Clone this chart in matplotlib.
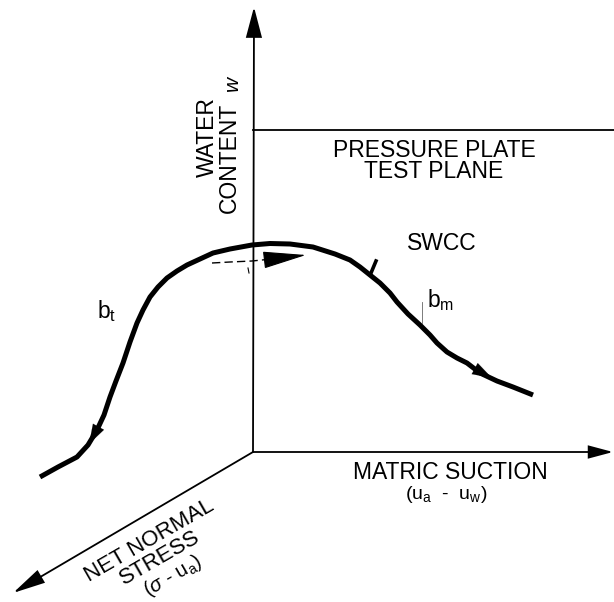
import matplotlib
matplotlib.use("Agg")
import matplotlib.pyplot as plt

plt.rcParams['font.family'] = ['Liberation Sans', 'DejaVu Sans']
plt.rcParams['mathtext.fontset'] = 'custom'
plt.rcParams['mathtext.rm'] = 'Liberation Sans'
plt.rcParams['mathtext.it'] = 'Liberation Sans:italic'

# Ejes del esquema (coordenadas en pixeles de la imagen)
origin = (253, 452)
top_tip = (254, 7)
right_tip = (613, 452)
diag_tip = (13, 593)
plate_y = 130

# Curva SWCC
curve_x = [40, 58, 77, 88, 97, 104, 110, 116, 123, 130, 137, 143, 150, 158,
           167, 177, 187, 200, 213, 230, 252, 270, 290, 313, 335, 350, 360,
           370, 380, 390, 397, 408, 420, 430, 437, 447, 457, 467, 480, 497,
           513, 533]
curve_y = [477, 467, 457, 445, 430, 415, 397, 381, 363, 342, 323, 310, 297,
           287, 278, 271, 265, 259, 253, 249, 245, 243.5, 244, 247, 254, 260,
           267, 275, 283, 293, 302, 314, 325, 335, 343, 352, 358, 363, 373,
           381, 387, 395]

# Flecha discontinua bajo el pico
dash_x = [212, 230, 252, 272]
dash_y = [263, 262, 261, 259]

fig = plt.figure(figsize=(6.14, 6.02), dpi=100)
ax = fig.add_axes([0, 0, 1, 1])
ax.set_xlim(0, 614)
ax.set_ylim(602, 0)
ax.axis('off')


def arrow(tip, base, lw, hl, hw):
    ax.annotate('', xy=tip, xytext=base,
                arrowprops=dict(arrowstyle='-|>,head_length=%g,head_width=%g' % (hl, hw),
                                lw=lw, color='black', shrinkA=0, shrinkB=0,
                                mutation_scale=1, joinstyle='miter'))


# ejes
arrow(top_tip, origin, 1.3, 19, 5)
arrow(right_tip, origin, 1.3, 15, 4)
arrow(diag_tip, origin, 1.3, 20, 4.5)
ax.plot([origin[0], 614], [plate_y, plate_y], color='black', lw=1.3)

# curva
ax.plot(curve_x, curve_y, color='black', lw=3.6, solid_capstyle='butt',
        solid_joinstyle='round')
arrow((89, 444), (100, 424), 0.1, 14, 4.5)
arrow((492, 378), (470, 366), 0.1, 14, 4.5)

# flecha discontinua
ax.plot(dash_x, dash_y, color='black', lw=1.0, dashes=(6, 3))
arrow((306, 255), (272, 259), 0.8, 28, 5.5)
ax.plot([248, 249], [268, 273], color='black', lw=0.8)

# marcas pequenas
ax.plot([371, 376], [273, 261], color='black', lw=2.6)
ax.plot([422, 422], [302, 323], color='0.4', lw=0.6)

fs = 16.5
ax.text(207, 137, 'WATER', rotation=90, ha='center', va='center', fontsize=fs)
ax.text(229, 158, 'CONTENT', rotation=90, ha='center', va='center', fontsize=fs)
ax.text(232, 83, 'w', rotation=90, ha='center', va='center', fontsize=15,
        style='italic')

ax.text(434, 157, 'PRESSURE PLATE', ha='center', va='baseline', fontsize=fs)
ax.text(434, 178, 'TEST PLANE', ha='center', va='baseline', fontsize=fs)
ax.text(442, 250, 'SWCC', ha='center', va='baseline', fontsize=fs)

ax.text(97, 318, r'b$_\mathrm{t}$', ha='left', va='baseline', fontsize=fs)
ax.text(427, 307, r'b$_\mathrm{m}$', ha='left', va='baseline', fontsize=fs)

ax.text(450, 479, 'MATRIC SUCTION', ha='center', va='baseline', fontsize=fs)
ax.text(446, 499, r'(u$_\mathrm{a}$  -  u$_\mathrm{w}$)', ha='center',
        va='baseline', fontsize=14)

ax.text(149, 541, 'NET NORMAL', rotation=30, ha='center', va='center',
        fontsize=16, rotation_mode='anchor')
ax.text(160, 558, 'STRESS', rotation=30, ha='center', va='center',
        fontsize=16, rotation_mode='anchor')
ax.text(173, 576, r'($\sigma$ - u$_\mathrm{a}$)', rotation=30, ha='center',
        va='center', fontsize=14.5, rotation_mode='anchor')

fig.savefig('out.png', dpi=100)
